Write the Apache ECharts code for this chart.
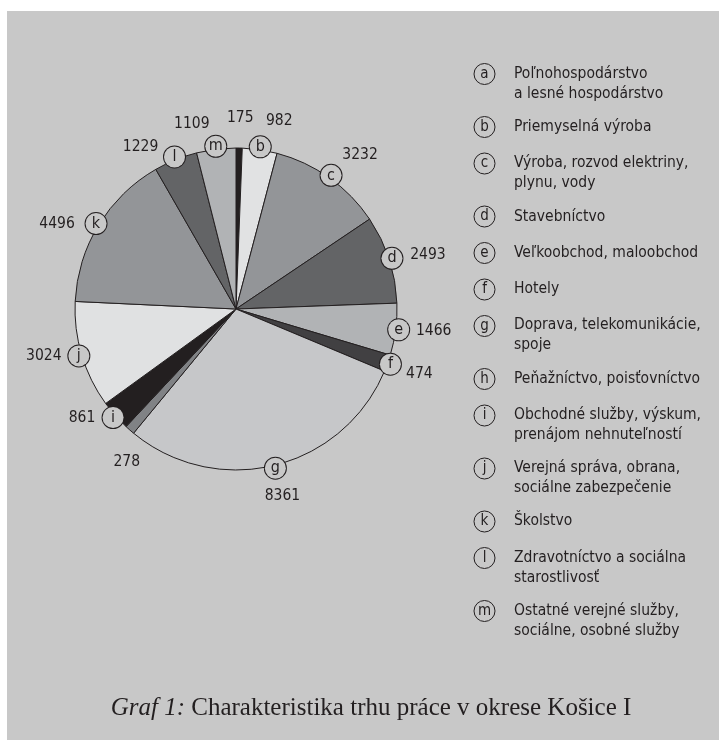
<!DOCTYPE html>
<html>
<head>
<meta charset="utf-8">
<title>Graf 1</title>
<script src="https://cdn.jsdelivr.net/npm/echarts@6/dist/echarts.min.js"></script>
<style>
  html, body { margin: 0; padding: 0; background: #fff; }
  .frame { position: absolute; left: 7px; top: 11px; width: 712px; height: 729px; background: #c8c8c8; }
  #chart { position: absolute; left: 0; top: 0; width: 719px; height: 740px; }
</style>
</head>
<body>
<div class="frame"></div>
<div id="chart"></div>
<script>
const letters = ['a', 'b', 'c', 'd', 'e', 'f', 'g', 'h', 'i', 'j', 'k', 'l', 'm'];
const categories = [
  'Poľnohospodárstvo\na lesné hospodárstvo',
  'Priemyselná výroba',
  'Výroba, rozvod elektriny,\nplynu, vody',
  'Stavebníctvo',
  'Veľkoobchod, maloobchod',
  'Hotely',
  'Doprava, telekomunikácie,\nspoje',
  'Peňažníctvo, poisťovníctvo',
  'Obchodné služby, výskum,\nprenájom nehnuteľností',
  'Verejná správa, obrana,\nsociálne zabezpečenie',
  'Školstvo',
  'Zdravotníctvo a sociálna\nstarostlivosť',
  'Ostatné verejné služby,\nsociálne, osobné služby'
];
const values = [175, 982, 3232, 2493, 1466, 474, 8361, 278, 861, 3024, 4496, 1229, 1109];

const sliceColors = ['#231f20', '#e1e2e3', '#939598', '#636466', '#b1b3b5', '#414042', '#c6c7c9',
                     '#808285', '#231f20', '#e0e1e2', '#939598', '#636466', '#b1b3b5'];
// where each number sits relative to its circled letter
const valueNudge = [[1, -27], [19, -26], [29, -20], [36, -3], [35, 1], [29, 10], [7, 28],
                    [-1, 30], [-31, 0], [-35, 0], [-39, 0], [-34, -10], [-24, -22]];

const ink = '#231f20';
const narrow = '"DejaVu Sans Condensed", "Liberation Sans Narrow", sans-serif';
const serif = '"Liberation Serif", "DejaVu Serif", serif';

const pieCenter = [236, 309];
const pieRadius = 161;

const pieData = values.map((v, i) => ({ name: categories[i], value: v }));

// shared by the two legend columns so their rows line up
const legendBase = {
  orient: 'vertical',
  top: 63,
  padding: 0,
  itemGap: 14.5,
  itemWidth: 0,
  itemHeight: 0,
  icon: 'none',
  selectedMode: false,
  data: categories
};

const chart = echarts.init(document.getElementById('chart'));

chart.setOption({
  animation: false,
  title: {
    text: '{i|Graf 1:} Charakteristika trhu práce v okrese Košice I',
    left: 366,
    textAlign: 'center',
    top: 691,
    textStyle: {
      fontFamily: serif,
      fontSize: 25,
      fontWeight: 'normal',
      color: ink,
      rich: {
        i: { fontFamily: serif, fontSize: 25, fontStyle: 'italic', color: ink }
      }
    }
  },
  legend: [
    {
      // circled letters
      ...legendBase,
      left: 469,
      formatter: function (name) {
        const i = categories.indexOf(name);
        const extra = name.split('\n').length - 1;
        return '{c|' + letters[i] + '}' + '\n{s| }'.repeat(extra);
      },
      textStyle: {
        fontFamily: narrow,
        color: ink,
        rich: {
          c: {
            fontFamily: narrow, fontSize: 15, color: ink,
            width: 21, height: 21, lineHeight: 21, align: 'center',
            borderColor: ink, borderWidth: 1, borderRadius: 11
          },
          s: { fontFamily: narrow, fontSize: 15.5, lineHeight: 18 }
        }
      }
    },
    {
      // category names
      ...legendBase,
      left: 509,
      formatter: function (name) {
        return name.split('\n').map((line, k) => (k === 0 ? '{t|' : '{t2|') + line + '}').join('\n');
      },
      textStyle: {
        fontFamily: narrow,
        color: ink,
        rich: {
          t: { fontFamily: narrow, fontSize: 15.5, color: ink, height: 21.75, lineHeight: 21.75 },
          t2: { fontFamily: narrow, fontSize: 15.5, color: ink, lineHeight: 18 }
        }
      }
    }
  ],
  series: [
    {
      type: 'pie',
      center: pieCenter,
      radius: pieRadius,
      startAngle: 90,
      clockwise: true,
      silent: true,
      label: { show: false },
      labelLine: { show: false },
      itemStyle: { borderColor: ink, borderWidth: 1 },
      data: pieData.map((d, i) => ({ ...d, itemStyle: { color: sliceColors[i] } }))
    },
    {
      // circled letters sitting on the rim
      type: 'pie',
      center: pieCenter,
      radius: [pieRadius - 11, pieRadius + 11],
      startAngle: 90,
      clockwise: true,
      silent: true,
      itemStyle: { color: 'rgba(0,0,0,0)', borderWidth: 0 },
      labelLine: { show: false },
      label: {
        show: true,
        position: 'inside',
        formatter: (p) => letters[p.dataIndex],
        fontFamily: narrow,
        fontSize: 16,
        color: ink,
        width: 21,
        height: 21,
        lineHeight: 21,
        align: 'center',
        backgroundColor: '#c8c8c8',
        borderColor: ink,
        borderWidth: 1,
        borderRadius: 11
      },
      data: pieData
    },
    {
      // numbers next to the circles
      type: 'pie',
      center: pieCenter,
      radius: [pieRadius - 11, pieRadius + 11],
      startAngle: 90,
      clockwise: true,
      silent: true,
      itemStyle: { color: 'rgba(0,0,0,0)', borderWidth: 0 },
      labelLine: { show: false },
      label: {
        show: true,
        position: 'inside',
        formatter: (p) => String(p.value),
        fontFamily: narrow,
        fontSize: 15.5,
        color: ink
      },
      labelLayout: (p) => ({ dx: valueNudge[p.dataIndex][0], dy: valueNudge[p.dataIndex][1] }),
      data: pieData
    }
  ]
});
</script>
</body>
</html>
